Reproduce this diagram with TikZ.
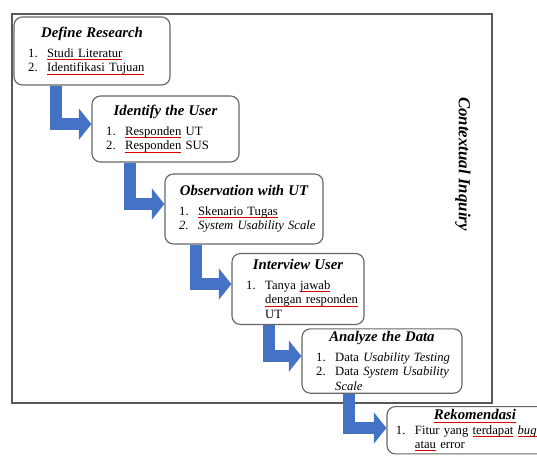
\documentclass[tikz,border=0pt]{standalone}
\usepackage{fontspec}
\setmainfont{Liberation Serif}
\usetikzlibrary{arrows.meta}

\definecolor{flowblue}{HTML}{4472C4}
\newsavebox{\spellbox}
\newlength{\stepindent}
\setlength{\stepindent}{0.23cm}
\newcommand{\boxhead}[1]{{\centering\fontsize{10.5}{12}\selectfont\bfseries\itshape #1\par}\vspace{3.5pt}}
\newcommand{\stepitem}[2]{\par{\hyphenpenalty=10000\leftskip=\stepindent\hangindent=13.5pt\hangafter=1\noindent\makebox[13.5pt][l]{#1}#2\par}}
\newcommand{\spell}[1]{\sbox{\spellbox}{#1}\leavevmode\rlap{\textcolor{red!85!black}{\rule[-1.8pt]{\wd\spellbox}{0.45pt}}}\usebox{\spellbox}}

\begin{document}
\begin{tikzpicture}[x=0.025cm,y=-0.025cm,
  box/.style={draw=black!60,line width=0.8pt,rounded corners=6pt,fill=white,
    inner xsep=0.125cm,inner ysep=2pt,align=left,font=\fontsize{9}{10.3}\selectfont},
  flow/.style={draw=flowblue,line width=8.5pt,line join=miter,
    -{Triangle[length=9pt,width=22pt]}}]
\useasboundingbox (0,0) rectangle (537,471);
\clip (0,0) rectangle (537,471);

% frame
\draw[black!65,line width=1.1pt] (12,14) rectangle (492,403);
\node[rotate=-90,font=\fontsize{12}{14}\selectfont\bfseries\itshape] (inquiry) at (463,164) {Contextual Inquiry};

% steps
\node[box,text width=3.65cm,minimum height=1.7cm] (define) at (92,51)
  {\boxhead{Define Research}\stepitem{1.}{\spell{Studi Literatur}}\stepitem{2.}{\spell{Identifikasi Tujuan}}};
\node[box,text width=3.425cm,minimum height=1.65cm] (user) at (165.5,129)
  {\boxhead{Identify the User}\stepitem{1.}{\spell{Responden} UT}\stepitem{2.}{\spell{Responden} SUS}};
\node[box,text width=3.7cm,minimum height=1.75cm] (observe) at (244,209)
  {\boxhead{Observation with UT}\stepitem{1.}{\spell{Skenario Tugas}}\stepitem{\textit{2.}}{\textit{System Usability Scale}}};
\node[box,text width=3.05cm,minimum height=1.775cm] (interview) at (298,289)
  {\boxhead{Interview User}\stepitem{1.}{Tanya \spell{jawab}\newline \spell{dengan responden}\newline UT}};
\node[box,text width=3.75cm,minimum height=1.6cm] (analyze) at (382,361)
  {\boxhead{Analyze the Data}\stepitem{1.}{Data \textit{Usability Testing}}\stepitem{2.}{Data \textit{System Usability}\newline \textit{Scale}}};
\node[box,anchor=north,inner xsep=0.225cm,text width=3.95cm] (rekom) at (475,406)
  {\setlength{\stepindent}{0pt}{\centering\fontsize{10.5}{12}\selectfont\bfseries\itshape\spell{Rekomendasi}\par}%
   \stepitem{1.}{Fitur yang \spell{terdapat} \spell{\textit{bug}}\newline \spell{atau} error}\vspace*{1.5cm}};

% arrows
\draw[flow] (define.south -| 56,0) |- ([yshift=3.5pt]user.west);
\draw[flow] (user.south -| 130,0) |- ([yshift=3.5pt]observe.west);
\draw[flow] (observe.south -| 196,0) |- ([yshift=3.5pt]interview.west);
\draw[flow] (interview.south -| 269,0) |- ([yshift=3.5pt]analyze.west);
\draw[flow] (analyze.south -| 349,0) |- (rekom.west |- 0,428);
\end{tikzpicture}
\end{document}
